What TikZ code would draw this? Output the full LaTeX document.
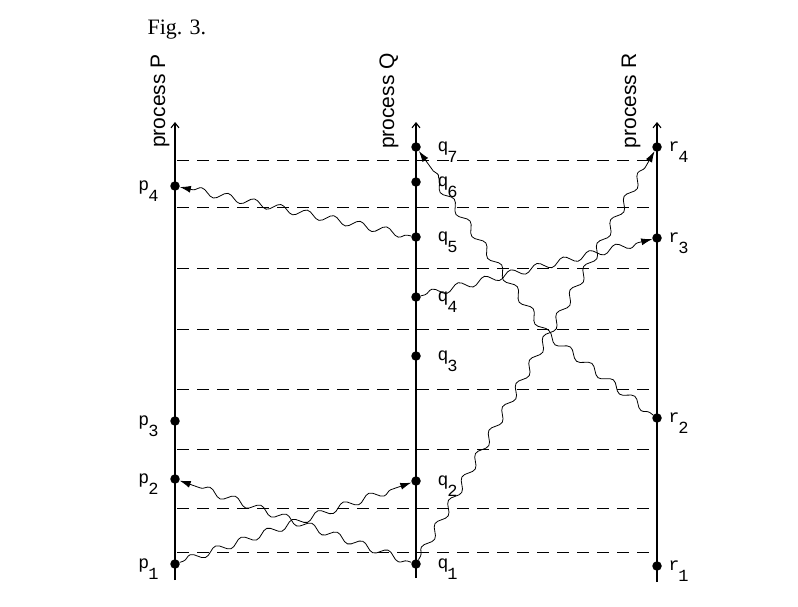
\documentclass[tikz,border=0pt]{standalone}
\usepackage{fontspec}
\setmainfont{Liberation Serif}
\newfontfamily\procfont{Liberation Sans}
\newfontfamily\labfont{Liberation Mono}
\usetikzlibrary{decorations.pathmorphing,arrows.meta}
\newcommand{\evlab}[2]{{\labfont\fontsize{18}{18}\selectfont #1\kern-1pt\raisebox{-11pt}{\fontsize{17}{17}\selectfont #2}}}
\begin{document}
\begin{tikzpicture}[x=1pt,y=-1pt,
  evt/.style={circle,fill,inner sep=0pt,minimum size=9.5pt},
  procline/.style={line width=1.1pt,-{Straight Barb[length=5pt,width=8pt]}},
  timeline/.style={line width=1pt,dash pattern=on 12pt off 8pt},
  msg/.style={line width=0.8pt,decorate,
    decoration={snake,segment length=27pt,amplitude=3.8pt,pre length=4pt,post length=12pt},
    -{Latex[length=11pt,width=7pt]}},
  proclab/.style={rotate=90,font=\procfont\fontsize{21}{21}\selectfont},
  leftlab/.style={anchor=base east},
  rightlab/.style={anchor=base west}]
\useasboundingbox (0,0) rectangle (798,606);

\node[anchor=base west,font=\fontsize{22}{22}\selectfont] (fig) at (144,34) {Fig. 3.};

% process lines
\coordinate (Pb) at (175,580); \coordinate (Pt) at (175,122);
\coordinate (Qb) at (416,578); \coordinate (Qt) at (416,122);
\coordinate (Rb) at (657,582); \coordinate (Rt) at (657,122);
\draw[procline] (Pb) -- (Pt);
\draw[procline] (Qb) -- (Qt);
\draw[procline] (Rb) -- (Rt);

\node[proclab] (lP) at (160,101) {process P};
\node[proclab] (lQ) at (389,101) {process Q};
\node[proclab] (lR) at (631,101) {process R};

% dashed time lines
\foreach \yy [count=\i] in {160,207,268,329,389,449,508,552}{
  \coordinate (tl\i) at (177,\yy);
  \coordinate (tr\i) at (655,\yy);
  \draw[timeline] (tl\i) -- (tr\i);
}

% events
\node[evt] (p1) at (175,564) {};
\node[evt] (p2) at (175,479) {};
\node[evt] (p3) at (175,421) {};
\node[evt] (p4) at (175,186) {};
\node[evt] (q1) at (416,564) {};
\node[evt] (q2) at (416,481) {};
\node[evt] (q3) at (416,356) {};
\node[evt] (q4) at (416,297) {};
\node[evt] (q5) at (416,237) {};
\node[evt] (q6) at (416,182) {};
\node[evt] (q7) at (416,147) {};
\node[evt] (r1) at (657,566) {};
\node[evt] (r2) at (657,418) {};
\node[evt] (r3) at (657,238) {};
\node[evt] (r4) at (657,147) {};

% labels
\node[leftlab] (lp1) at (162,568) {\evlab{p}{1}};
\node[leftlab] (lp2) at (162,483) {\evlab{p}{2}};
\node[leftlab] (lp3) at (162,425) {\evlab{p}{3}};
\node[leftlab] (lp4) at (162,190) {\evlab{p}{4}};
\node[rightlab] (lq1) at (434,568) {\evlab{q}{1}};
\node[rightlab] (lq2) at (434,485) {\evlab{q}{2}};
\node[rightlab] (lq3) at (434,360) {\evlab{q}{3}};
\node[rightlab] (lq4) at (434,301) {\evlab{q}{4}};
\node[rightlab] (lq5) at (434,241) {\evlab{q}{5}};
\node[rightlab] (lq6) at (434,186) {\evlab{q}{6}};
\node[rightlab] (lq7) at (434,151) {\evlab{q}{7}};
\node[rightlab] (lr1) at (665,570) {\evlab{r}{1}};
\node[rightlab] (lr2) at (665,422) {\evlab{r}{2}};
\node[rightlab] (lr3) at (665,242) {\evlab{r}{3}};
\node[rightlab] (lr4) at (665,151) {\evlab{r}{4}};

% messages
\coordinate (cross) at (555,340);
\draw[msg] (p1) -- (q2);
\draw[msg] (q1) -- (p2);
\draw[msg] (q1) -- (r4);
\draw[msg] (q4) -- (r3);
\draw[msg] (q5) -- (p4);
\draw[msg] (r2) -- (cross) -- (q7);
\end{tikzpicture}
\end{document}
